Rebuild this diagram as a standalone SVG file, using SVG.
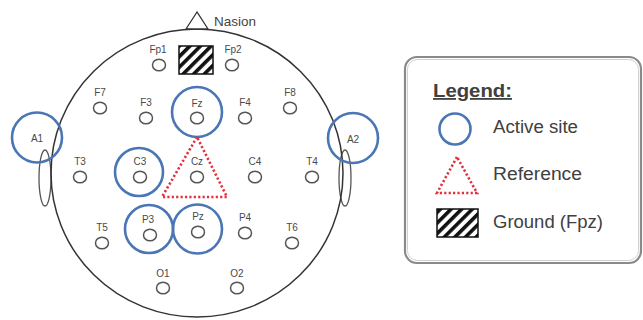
<svg xmlns="http://www.w3.org/2000/svg" width="643" height="320" viewBox="0 0 643 320">
<style>
.el{fill:#fff;stroke:#555;stroke-width:1.5}
.lb{font-family:"Liberation Sans",Arial,sans-serif;font-size:10px;fill:#4a4a4a;text-anchor:middle}
.act{fill:none;stroke:#4a76b6;stroke-width:2.6}
.ref{fill:none;stroke:#e3303c;stroke-width:2.6;stroke-dasharray:2.2 2.2}
.lg{font-family:"Liberation Sans",Arial,sans-serif;font-size:18px;fill:#404040}
.ear{fill:#fff;stroke:#555;stroke-width:1.3}
</style>
<defs>
<pattern id="hatch" width="7.5" height="7.5" patternUnits="userSpaceOnUse" patternTransform="rotate(45)">
<rect width="7.5" height="7.5" fill="#fff"/>
<rect width="3.6" height="7.5" fill="#111"/>
</pattern>
</defs>
<rect width="643" height="320" fill="#fff"/>
<g id="head">
<ellipse class="ear" cx="45" cy="178" rx="6" ry="28"/>
<ellipse class="ear" cx="345" cy="178" rx="6" ry="28"/>
<ellipse cx="197" cy="173" rx="146" ry="144" fill="none" stroke="#333" stroke-width="1.5"/>
<polygon points="197,12 186,29 208,29" fill="#fff" stroke="#333" stroke-width="1.3"/>
<text x="214" y="26" font-family="Liberation Sans, Arial, sans-serif" font-size="13.5" fill="#444">Nasion</text>
</g>
<g id="ground">
<rect x="179" y="46" width="34" height="28" fill="url(#hatch)" stroke="#111" stroke-width="1.5"/>
</g>
<g id="electrodes">
<g id="Fp1"><ellipse class="el" cx="159" cy="65" rx="6.5" ry="5.8"/><text class="lb" x="158" y="53">Fp1</text></g>
<g id="Fp2"><ellipse class="el" cx="232" cy="65" rx="6.5" ry="5.8"/><text class="lb" x="233" y="53">Fp2</text></g>
<g id="F7"><ellipse class="el" cx="100" cy="108" rx="6.5" ry="5.8"/><text class="lb" x="100" y="96">F7</text></g>
<g id="F3"><ellipse class="el" cx="146" cy="118" rx="6.5" ry="5.8"/><text class="lb" x="146" y="106">F3</text></g>
<g id="Fz"><ellipse class="el" cx="197" cy="118" rx="6.5" ry="5.8"/><text class="lb" x="197" y="107">Fz</text></g>
<g id="F4"><ellipse class="el" cx="245" cy="118" rx="6.5" ry="5.8"/><text class="lb" x="245" y="106">F4</text></g>
<g id="F8"><ellipse class="el" cx="290" cy="108" rx="6.5" ry="5.8"/><text class="lb" x="290" y="96">F8</text></g>
<g id="T3"><ellipse class="el" cx="80" cy="177" rx="6.5" ry="5.8"/><text class="lb" x="80" y="165">T3</text></g>
<g id="C3"><ellipse class="el" cx="140" cy="177" rx="6.5" ry="5.8"/><text class="lb" x="140" y="165">C3</text></g>
<g id="Cz"><ellipse class="el" cx="197" cy="177" rx="6.5" ry="5.8"/><text class="lb" x="197" y="165">Cz</text></g>
<g id="C4"><ellipse class="el" cx="255" cy="177" rx="6.5" ry="5.8"/><text class="lb" x="255" y="165">C4</text></g>
<g id="T4"><ellipse class="el" cx="312" cy="177" rx="6.5" ry="5.8"/><text class="lb" x="312" y="165">T4</text></g>
<g id="T5"><ellipse class="el" cx="102" cy="243" rx="6.5" ry="5.8"/><text class="lb" x="102" y="231">T5</text></g>
<g id="P3"><ellipse class="el" cx="150" cy="235" rx="6.5" ry="5.8"/><text class="lb" x="148" y="223">P3</text></g>
<g id="Pz"><ellipse class="el" cx="198" cy="232" rx="6.5" ry="5.8"/><text class="lb" x="198" y="220">Pz</text></g>
<g id="P4"><ellipse class="el" cx="245" cy="233" rx="6.5" ry="5.8"/><text class="lb" x="245" y="221">P4</text></g>
<g id="T6"><ellipse class="el" cx="292" cy="243" rx="6.5" ry="5.8"/><text class="lb" x="292" y="231">T6</text></g>
<g id="O1"><ellipse class="el" cx="163" cy="288" rx="6.5" ry="5.8"/><text class="lb" x="163" y="277">O1</text></g>
<g id="O2"><ellipse class="el" cx="237" cy="288" rx="6.5" ry="5.8"/><text class="lb" x="237" y="277">O2</text></g>
<g id="A1"><text class="lb" x="37" y="142" font-size="10.5">A1</text></g>
<g id="A2"><text class="lb" x="353" y="143" font-size="10.5">A2</text></g>
</g>
<g id="active-sites">
<circle class="act" cx="197" cy="112" r="25"/>
<circle class="act" cx="139" cy="172" r="24"/>
<circle class="act" cx="149" cy="229" r="24"/>
<circle class="act" cx="197.5" cy="229" r="24.5"/>
<circle class="act" cx="37" cy="137.5" r="25"/>
<circle class="act" cx="353" cy="138" r="25"/>
</g>
<g id="reference">
<polygon class="ref" points="197,137 162,197 227,197"/>
</g>
<g id="legend">
<rect x="405" y="57" width="236" height="206" rx="12" fill="#fff" stroke="#8a8a8a" stroke-width="2.2"/>
<rect x="407.5" y="59.5" width="231" height="201" rx="10" fill="none" stroke="#d0d0d0" stroke-width="1"/>
<text class="lg" x="433" y="97" font-weight="bold" text-decoration="underline" textLength="79" lengthAdjust="spacingAndGlyphs">Legend:</text>
<circle class="act" cx="455" cy="129" r="15.5"/>
<text class="lg" x="493" y="133" textLength="85" lengthAdjust="spacingAndGlyphs">Active site</text>
<polygon class="ref" points="457,157 437,193 477,193"/>
<text class="lg" x="493" y="180" textLength="89" lengthAdjust="spacingAndGlyphs">Reference</text>
<rect x="437" y="209" width="41" height="28" fill="url(#hatch)" stroke="#111" stroke-width="1.5"/>
<text class="lg" x="493" y="228" textLength="110" lengthAdjust="spacingAndGlyphs">Ground (Fpz)</text>
</g>
</svg>
